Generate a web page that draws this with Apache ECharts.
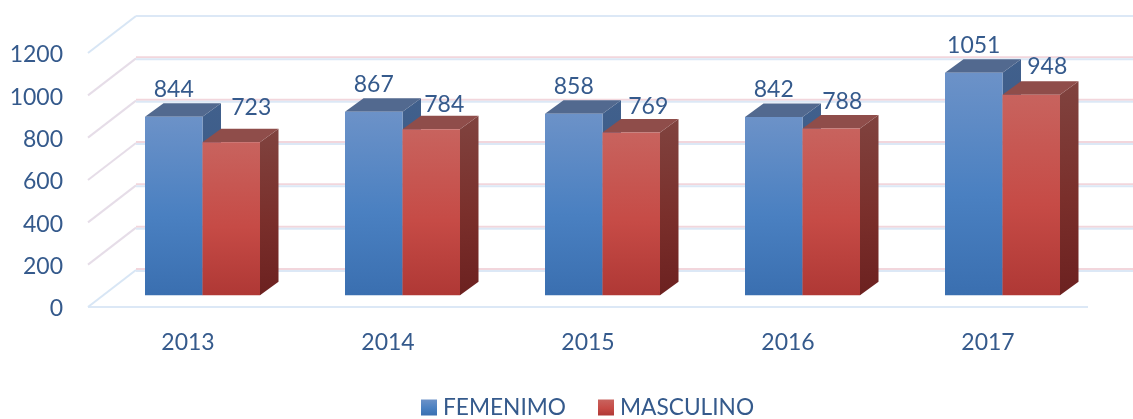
<!DOCTYPE html>
<html>
<head>
<meta charset="utf-8">
<title>Femenimo / Masculino</title>
<style>
html,body{margin:0;padding:0;background:#fff;}
/* the source picture is a soft, upscaled scan */
#chart{width:1133px;height:419px;filter:blur(0.6px);}
</style>
<script src="https://cdn.jsdelivr.net/npm/echarts@6/dist/echarts.min.js"></script>
</head>
<body>
<div id="chart"></div>
<script>
var years = ['2013','2014','2015','2016','2017'];
var femenimo = [844,867,858,842,1051];
var masculino = [723,784,769,788,948];
var ticks = [0,200,400,600,800,1000,1200];

var TEXT = '#355A8C';
var FONT = 'Lato';
// floor depth of the fake 3d box
var WALL_DX = 48, WALL_DY = -37;
// where the bars stand on the floor, and how deep they are
var BAR_DX = 14.5, BAR_DY = -11.7, BAR_W = 0.2875;
var DEPTH_X = 18.5, DEPTH_Y = -13.5;
// hand placed value labels in the original
var maleNudge = [[20,-35],[13,-25],[17,-26],[11,-27],[16,-28]];

function fade(a,b,c) {
  return new echarts.graphic.LinearGradient(0,0,0,1,[
    {offset:0,color:a},{offset:0.55,color:b},{offset:1,color:c}
  ]);
}
var blue = {face:fade('#6C92C8','#4A80C1','#3A6FB0'), top:'#52698F', side:fade('#41608C','#395A88','#2F4F7C')};
var red = {face:fade('#C8635E','#C64B46','#AF3835'), top:'#8F4D4A', side:fade('#80433F','#7A2F2B','#6C2120')};

function line(x1,y1,x2,y2,color,w) {
  return {type:'line', shape:{x1:x1,y1:y1,x2:x2,y2:y2}, style:{stroke:color,lineWidth:w||2}, silent:true};
}

function renderWall(params,api) {
  var v = api.value(1);
  var p = api.coord([0,v]);
  var x0 = params.coordSys.x, y0 = p[1];
  var bx = x0+WALL_DX, by = y0+WALL_DY;
  var kids = [];
  if (v==0) {
    kids.push(line(x0,y0,params.coordSys.x+params.coordSys.width,y0,'#DCE8F6'));
    kids.push(line(x0,y0,bx,by,'#D8E6F5'));
  } else {
    kids.push(line(x0,y0,bx,by,v==1200?'#D8E6F5':'#E6DDE8'));
  }
  if (v<1200) kids.push(line(bx,by-1,api.getWidth(),by-1,'#F2D6DC'));
  kids.push(line(bx,by+(v<1200?1:0),api.getWidth(),by+(v<1200?1:0),'#DCE8F6'));
  return {type:'group',children:kids};
}

function renderBar(col,side) {
  return function(params,api) {
    var i = api.value(0), v = api.value(1);
    var w = api.size([1,0])[0]*BAR_W;
    var top = api.coord([i,v]), base = api.coord([i,0]);
    var xr = top[0]+BAR_DX+(side<0?0:w), xl = xr-w;
    var yt = top[1]+BAR_DY, yb = base[1]+BAR_DY;
    var nudge = side<0 ? [0,-27.5] : maleNudge[i];
    return {type:'group',children:[
      {type:'polygon',shape:{points:[[xr,yt],[xr+DEPTH_X,yt+DEPTH_Y],[xr+DEPTH_X,yb+DEPTH_Y],[xr,yb]]},style:{fill:col.side}},
      {type:'polygon',shape:{points:[[xl,yt],[xl+DEPTH_X,yt+DEPTH_Y],[xr+DEPTH_X,yt+DEPTH_Y],[xr,yt]]},style:{fill:col.top}},
      {type:'rect',shape:{x:xl,y:yt,width:w,height:yb-yt},style:{fill:col.face}},
      {type:'text',style:{text:String(v),x:(xl+xr)/2+nudge[0],y:yt+nudge[1],align:'center',verticalAlign:'middle',fill:TEXT,fontFamily:FONT,fontSize:23}}
    ]};
  };
}

function rows(list) {
  var out = [];
  for (var i=0;i<list.length;i++) out.push([i,list[i]]);
  return out;
}

var byId = echarts.init(document.getElementById('chart'));
byId.setOption({
  animation:false,
  backgroundColor:'#fff',
  grid:{left:88,right:45,top:53,bottom:112},
  legend:{
    data:['FEMENIMO','MASCULINO'],
    left:416,top:391,padding:5,
    icon:'rect',itemWidth:16,itemHeight:16,itemGap:32,
    textStyle:{color:TEXT,fontFamily:FONT,fontSize:22.7,padding:[0,0,0,1]}
  },
  xAxis:{
    type:'category',data:years,
    axisLine:{show:false},axisTick:{show:false},
    axisLabel:{color:TEXT,fontFamily:FONT,fontSize:23,margin:24}
  },
  yAxis:{
    type:'value',min:0,max:1200,interval:200,
    axisLine:{show:false},axisTick:{show:false},splitLine:{show:false},
    axisLabel:{
      margin:25,
      formatter:function(v){return '{n|'+v+'}';},
      rich:{n:{color:TEXT,fontFamily:FONT,fontSize:23,padding:[4,0,0,0]}}
    }
  },
  series:[
    {name:'wall',type:'custom',z:1,silent:true,data:ticks.map(function(t){return [0,t];}),encode:{x:0,y:1},renderItem:renderWall},
    {name:'FEMENIMO',type:'custom',z:2,data:rows(femenimo),encode:{x:0,y:1},itemStyle:{color:blue.face},renderItem:renderBar(blue,-1)},
    {name:'MASCULINO',type:'custom',z:3,data:rows(masculino),encode:{x:0,y:1},itemStyle:{color:red.face},renderItem:renderBar(red,1)}
  ]
});
</script>
</body>
</html>
